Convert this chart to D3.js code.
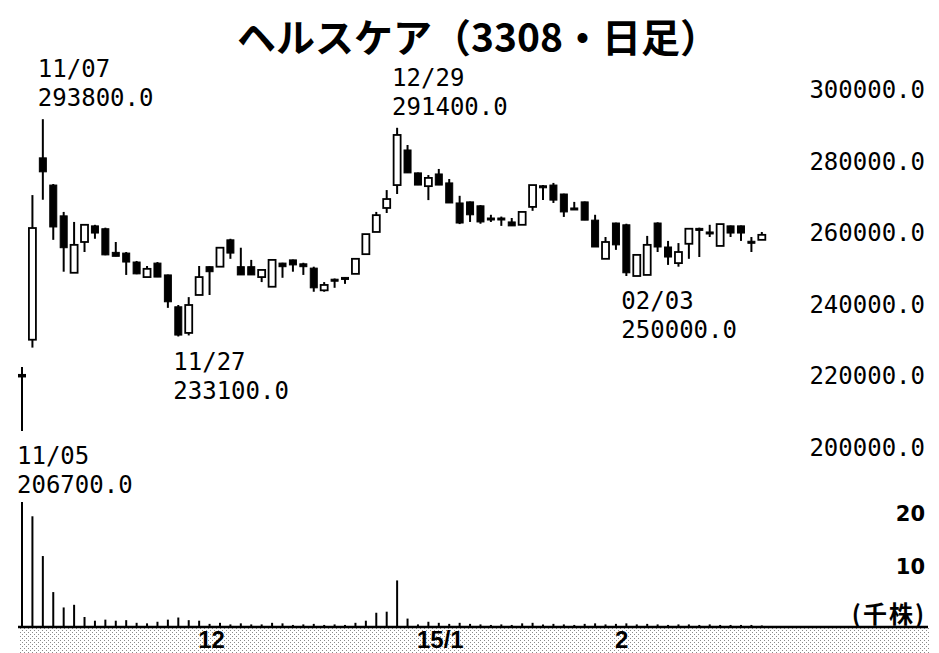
<!DOCTYPE html>
<html><head><meta charset="utf-8">
<script src="https://cdn.jsdelivr.net/npm/d3@7"></script>
<style>html,body{margin:0;padding:0;background:#fff;} svg{display:block}</style>
</head><body>
<svg id="chart" width="939" height="653"></svg>
<script>
// ---- data ----
const dates = ["11/05","11/06","11/07","11/10","11/11","11/12","11/13","11/14","11/17","11/18","11/19","11/20","11/21","11/25","11/26","11/27","11/28",
"12/01","12/02","12/03","12/04","12/05","12/08","12/09","12/10","12/11","12/12","12/15","12/16","12/17","12/18","12/19","12/22","12/24","12/25","12/26","12/29","12/30",
"01/05","01/06","01/07","01/08","01/09","01/13","01/14","01/15","01/16","01/19","01/20","01/21","01/22","01/23","01/26","01/27","01/28","01/29","01/30",
"02/02","02/03","02/04","02/05","02/06","02/09","02/10","02/12","02/13","02/16","02/17","02/18","02/19","02/20","02/23"];
const open  = [222500,232200,283000,275400,266800,250900,259500,264000,263200,256600,256400,253900,249700,253600,250300,241400,234100,
244700,252600,252600,260100,252600,252600,249700,247000,253600,254500,253400,252200,246000,249100,249600,250600,256100,262300,269000,275400,285200,
278800,275100,278500,276000,270400,270700,269600,266200,266200,265100,264300,269300,275200,275400,272900,269000,270700,265600,254800,
264800,264300,250000,250300,264800,258100,253600,259000,263300,262300,258400,264000,264000,259700,260100];
const high  = [224600,272600,293800,275700,267900,265100,264300,264300,263500,259500,256700,254200,252800,253900,250400,241900,244100,
252800,252700,257900,260400,257900,254500,251700,254700,253700,254600,253700,252600,248300,249300,249700,254900,261700,267900,274000,291400,286600,
278900,278200,279900,277100,272400,270800,269800,267100,266600,266200,267900,275400,275400,276000,273000,270700,270800,267100,260900,
264900,264600,255900,261200,265000,259800,259200,263200,263500,264300,264500,264100,264100,260900,262300];
const low   = [206700,230000,271300,260100,251200,250900,256700,260400,255800,255500,250300,250500,249700,249700,241100,233100,233400,
244700,244700,252600,254800,250300,250300,248300,247000,249500,251200,250300,245600,245600,246700,247800,250600,256100,262300,267600,272900,278800,
275400,271200,275400,270400,264500,265100,264600,265100,264000,264000,264300,268200,271200,270400,266500,268800,265600,258100,254800,
257300,250000,250000,250300,256700,253100,252600,254800,255300,260900,258400,260900,259800,256700,260100];
const close = [221800,263400,279100,263700,257900,258700,264300,262000,255900,255500,253900,250600,252000,249700,242800,233500,241900,
249700,251200,257900,256400,250300,250300,251700,254500,252600,253100,252600,246700,247500,248800,249300,254800,261700,267000,271500,289400,278800,
275400,277400,275400,270400,264800,267100,265100,265800,265900,264000,267900,275400,274900,271200,267900,268800,265600,258100,259500,
258700,250900,255900,258700,258100,255300,256700,263200,262900,261800,264500,262000,262000,259400,261500];
const volume = [23.4,20.7,13.2,6.4,3.5,4.0,1.7,1.0,1.2,1.0,1.1,0.6,0.5,0.8,1.2,1.6,1.1,
1.0,0.4,0.6,0.3,0.5,0.3,0.3,0.6,0.5,0.2,0.3,0.4,0.2,0.3,0.2,0.6,1.0,2.5,2.7,8.6,1.4,
0.3,0.8,0.6,0.4,0.6,0.4,0.3,0.2,0.3,0.2,0.5,0.6,0.3,0.4,0.3,0.2,0.4,0.5,0.3,
0.4,0.5,0.3,0.4,0.3,0.2,0.3,0.3,0.2,0.3,0.2,0.2,0.2,0.2,0.1];
const priceTicks = [300000,280000,260000,240000,220000,200000];
const volumeTicks = [20,10];
const monthDates = ["12/01","01/05","02/02"];
const monthTexts = ["12","15/1","2"];
const annDates = ["11/07","12/29","11/27","02/03","11/05"];
const annKinds = ["high","high","low","low","low"];
const titleText = "ヘルスケア（3308・日足）";
const volUnit = "(千株)";

// ---- scales ----
const svg = d3.select("#chart");
const x = d3.scalePoint().domain(dates).range([22, 22 + 71*10.42]);
const y = d3.scaleLinear().domain([200000, 300000]).range([455, 97]);
const yv = d3.scaleLinear().domain([0, 20]).range([626, 520]);
const numFont = "'DejaVu Sans Mono', monospace";

// pattern for bottom band
const defs = svg.append("defs");
const pat = defs.append("pattern").attr("id","dots").attr("width",4).attr("height",4).attr("patternUnits","userSpaceOnUse");
pat.append("rect").attr("width",4).attr("height",4).attr("fill","#fff");
pat.append("rect").attr("x",0).attr("y",0).attr("width",1).attr("height",1).attr("fill","#8a8a8a");
pat.append("rect").attr("x",2).attr("y",2).attr("width",1).attr("height",1).attr("fill","#8a8a8a");

// title
svg.append("text").attr("x", 478).attr("y", 52).attr("text-anchor","middle")
  .attr("font-family","'Noto Sans CJK JP', sans-serif").attr("font-weight","bold")
  .attr("font-size", 39).attr("fill","#000").text(titleText);

// price axis labels
svg.append("g").selectAll("text").data(priceTicks).join("text")
  .attr("x", 925).attr("y", d => y(d) - 7).attr("text-anchor","end")
  .attr("dominant-baseline","central").attr("font-family", numFont).attr("font-size", 24)
  .attr("fill","#000").text(d => d3.format(".1f")(d));

// volume labels
svg.append("g").selectAll("text").data(volumeTicks).join("text")
  .attr("x", 925).attr("y", d => yv(d) - 6).attr("text-anchor","end")
  .attr("dominant-baseline","central").attr("font-family","'DejaVu Sans', sans-serif")
  .attr("font-weight","bold").attr("font-size", 21).attr("fill","#000").text(d => d);

// bottom band
svg.append("rect").attr("x", 19).attr("y", 628).attr("width", 910).attr("height", 25).attr("fill","url(#dots)");
// volume bars
svg.append("g").selectAll("line").data(dates).join("line")
  .attr("x1", d => x(d)).attr("x2", d => x(d))
  .attr("y1", yv(0)).attr("y2", (d,i) => yv(volume[i]))
  .attr("stroke","#000").attr("stroke-width", 2);
// baseline
svg.append("line").attr("x1",18).attr("x2",928).attr("y1",627).attr("y2",627).attr("stroke","#000").attr("stroke-width",2.5);
svg.append("text").attr("x", 926).attr("y", 623).attr("text-anchor","end")
  .attr("font-family","'Noto Sans CJK JP', sans-serif").attr("font-weight","bold")
  .attr("font-size", 24).attr("letter-spacing", 2).attr("fill","#000").text(volUnit);

// month labels
svg.append("g").selectAll("text").data(monthDates).join("text")
  .attr("x", d => x(d) - 1).attr("y", 648)
  .attr("font-family","'Liberation Sans', sans-serif").attr("font-weight","bold")
  .attr("font-size", 24).attr("fill","#000").text((d,i) => monthTexts[i]);

// candles
const g = svg.append("g");
const bw = 7;
dates.forEach((d,i) => {
  const cx = x(d);
  g.append("line").attr("x1",cx).attr("x2",cx).attr("y1",y(high[i])).attr("y2",y(low[i]))
    .attr("stroke","#000").attr("stroke-width",2);
  const up = close[i] >= open[i];
  const top = y(Math.max(open[i], close[i]));
  const bot = y(Math.min(open[i], close[i]));
  const h = Math.max(bot - top, 2);
  g.append("rect").attr("x", cx - bw/2).attr("y", top).attr("width", bw).attr("height", h)
    .attr("fill", up ? "#fff" : "#000").attr("stroke","#000").attr("stroke-width", up ? 1.8 : 1);
});

// annotations
const ag = svg.append("g");
annDates.forEach((d,k) => {
  const i = dates.indexOf(d);
  const isHigh = annKinds[k] === "high";
  const v = isHigh ? high[i] : low[i];
  const vy = y(v);
  const y1 = isHigh ? vy - 50 : vy + 25;
  const lines = [d, d3.format(".1f")(v)];
  lines.forEach((t,j) => {
    ag.append("text").attr("x", x(d) - 5).attr("y", y1 + j*29)
      .attr("dominant-baseline","central").attr("font-family", numFont).attr("font-size", 24)
      .attr("fill","#000").text(t);
  });
});
</script>
</body></html>
